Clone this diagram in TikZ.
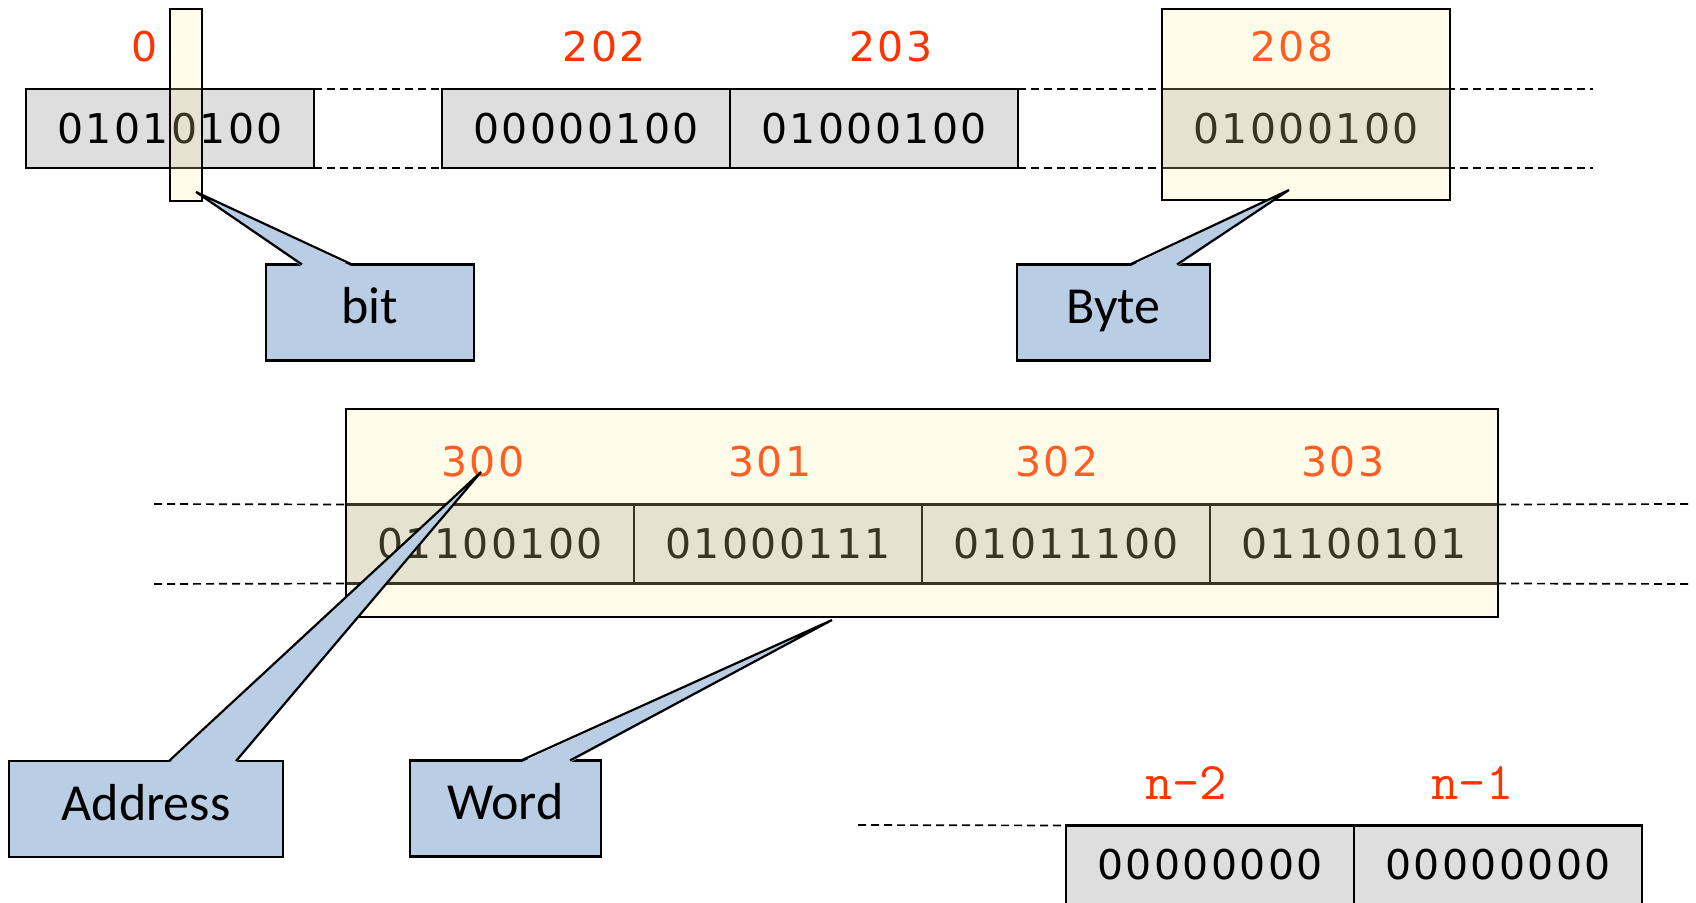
\documentclass[tikz,border=0pt]{standalone}
\usepackage{fontspec}
\usetikzlibrary{calc}
\newfontfamily\bitsfont[LetterSpace=6]{DejaVu Sans}
\newfontfamily\notefont{Carlito}
\definecolor{cellgray}{HTML}{DEDEDE}
\definecolor{addrred}{HTML}{FF3300}
\definecolor{hlyellow}{RGB}{255,247,159}
\definecolor{noteblue}{HTML}{B9CDE5}
\tikzset{
  cell/.style={draw=black, line width=1.1pt, fill=cellgray, minimum width=144pt,
    minimum height=39.5pt, inner sep=0pt, outer sep=0pt,
    font=\bitsfont\fontsize{20.5}{20.5}\selectfont},
  addr/.style={text=addrred, inner sep=0pt,
    font=\bitsfont\fontsize{20.5}{20.5}\selectfont},
  naddr/.style={text=addrred, inner sep=0pt,
    font=\ttfamily\fontsize{26.5}{26.5}\selectfont},
  hilite/.style={draw=black, line width=1.1pt, fill=hlyellow, fill opacity=0.22,
    draw opacity=1, inner sep=0pt, outer sep=0pt},
  notebox/.style={draw=black, line width=1.1pt, fill=noteblue, minimum height=48pt,
    inner sep=0pt, outer sep=0pt, text height=17pt, text depth=6pt,
    font=\notefont\fontsize{26}{26}\selectfont},
  notetail/.style={draw=black, line width=1.1pt},
  guide/.style={black, line width=0.85pt, dash pattern=on 4pt off 2.5pt}
}
\begin{document}
\begin{tikzpicture}[x=0.5pt, y=-0.5pt]
\useasboundingbox (0,0) rectangle (1696,903);
\clip (0,0) rectangle (1696,903);
\fill[white] (0,0) rectangle (1696,903);

% ---- memory cells ----
\node[cell] (c0)   at (170,128.5)  {01010100};
\node[cell] (c202) at (586,128.5)  {00000100};
\node[cell] (c203) at (874,128.5)  {01000100};
\node[cell] (c300) at (490,544)    {01100100};
\node[cell] (c301) at (778,544)    {01000111};
\node[cell] (c302) at (1066,544)   {01011100};
\node[cell] (c303) at (1354,544)   {01100101};
\node[cell] (cn2)  at (1210,865)   {00000000};
\node[cell] (cn1)  at (1498,865)   {00000000};

% ---- dashed guides between separated cells ----
\coordinate (rt0) at (1593,89);
\coordinate (rb0) at (1593,168);
\coordinate (lt1) at (154,504);
\coordinate (lb1) at (154,584);
\coordinate (rt1) at (1690,504);
\coordinate (rb1) at (1690,584);
\coordinate (lt2) at (858,825);
\draw[guide] (c0.north east) -- (c202.north west);
\draw[guide] (c0.south east) -- (c202.south west);
\draw[guide] (c203.north east) -- (rt0);
\draw[guide] (c203.south east) -- (rb0);
\draw[guide] (lt1) -- (c300.north west);
\draw[guide] (lb1) -- (c300.south west);
\draw[guide] (c303.north east) -- (rt1);
\draw[guide] (c303.south east) -- (rb1);
\draw[guide] (lt2) -- (cn2.north west);

% cell 208 sits on top of the right-hand guides
\node[cell] (c208) at (1306,128.5) {01000100};

% ---- addresses ----
\node[addr] (a0)   at (145,47)    {0};
\node[addr] (a202) at (604.5,47)  {202};
\node[addr] (a203) at (891,47)    {203};
\node[addr] (a208) at (1292,47)   {208};
\node[addr] (a300) at (483,462)   {300};
\node[addr] (a301) at (770,462)   {301};
\node[addr] (a302) at (1057,462)  {302};
\node[addr] (a303) at (1343,462)  {303};
\node[naddr] (an2) at (1186,782.5)  {n-2};
\node[naddr] (an1) at (1472.5,782.5) {n-1};

% ---- highlighted units ----
\node[hilite, minimum width=16pt,  minimum height=96pt]   (bitbox)  at (186,104.7) {};
\node[hilite, minimum width=144pt, minimum height=95.5pt] (bytebox) at (1306,104.5) {};
\node[hilite, minimum width=576pt, minimum height=104pt]  (wordbox) at (922,513) {};

% ---- callouts ----
\node[notebox, minimum width=104pt]  (bit)  at (370,312.5)   {bit};
\node[notebox, minimum width=96.5pt] (byte) at (1113.5,312.5) {Byte};
\node[notebox, minimum width=137pt]  (address) at (146,809)  {Address};
\node[notebox, minimum width=95.5pt] (word) at (505.5,808.5) {Word};

\coordinate (bittip)  at (196,192);
\coordinate (bytetip) at (1289,190);
\coordinate (addrtip) at (481,472);
\coordinate (wordtip) at (832,620);

\coordinate (bitA)  at ($(bit.north west)+(36,0)$);
\coordinate (bitB)  at ($(bit.north west)+(86,0)$);
\coordinate (byteA) at ($(byte.north west)+(113,0)$);
\coordinate (byteB) at ($(byte.north west)+(160,0)$);
\coordinate (addrA) at ($(address.north west)+(160,0)$);
\coordinate (addrB) at ($(address.north west)+(227,0)$);
\coordinate (wordA) at ($(word.north west)+(111,0)$);
\coordinate (wordB) at ($(word.north west)+(160,0)$);

\foreach \a/\t/\b in {bitA/bittip/bitB, byteA/bytetip/byteB,
                      addrA/addrtip/addrB, wordA/wordtip/wordB}{
  \fill[noteblue] ($(\a)+(0,2)$) -- (\t) -- ($(\b)+(0,2)$) -- cycle;
  \draw[notetail] (\a) -- (\t) -- (\b);
}
\end{tikzpicture}
\end{document}
